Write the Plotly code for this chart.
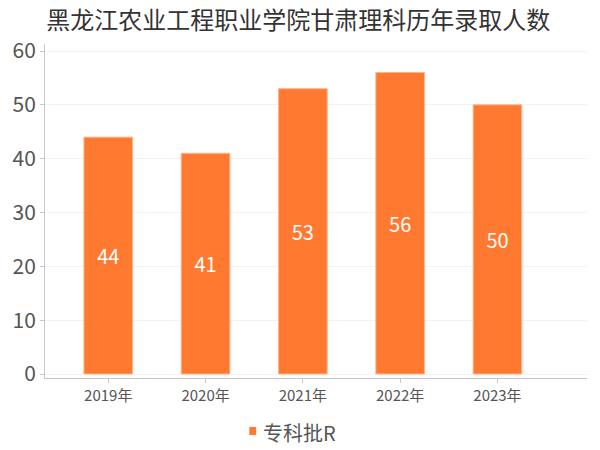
import plotly.graph_objects as go

years = ["2019年", "2020年", "2021年", "2022年", "2023年"]
counts = [44, 41, 53, 56, 50]
series_name = "专科批R"

font = "Noto Sans CJK SC, Microsoft YaHei, sans-serif"
bar_color = "#FF7A30"

fig = go.Figure()
fig.add_trace(go.Bar(
    x=years, y=counts, name=series_name,
    width=0.5,
    marker=dict(color=bar_color, line=dict(color="#FFB58A", width=1)),
    text=[str(v) for v in counts],
    textposition="inside", insidetextanchor="middle",
    textfont=dict(color="white", size=20, family=font),
    showlegend=False,
))

# legend drawn by hand so it does not push the plot margins
fig.add_shape(type="rect", xref="paper", yref="paper",
              x0=0.377, x1=0.3897, y0=-0.1707, y1=-0.1467,
              fillcolor=bar_color, line=dict(width=0))
fig.add_annotation(text=series_name, xref="paper", yref="paper",
                   x=0.399, y=-0.1617, xanchor="left", yanchor="middle",
                   showarrow=False,
                   font=dict(size=20, color="#555555", family=font))

fig.update_layout(
    width=600, height=450,
    paper_bgcolor="white", plot_bgcolor="white",
    margin=dict(l=43, r=13, t=44, b=72),
    font=dict(family=font, color="#555555"),
    title=dict(text="黑龙江农业工程职业学院甘肃理科历年录取人数",
               x=0.497, xanchor="center", y=0.955, yanchor="middle",
               font=dict(size=24, color="#333333", family=font)),
    bargap=0.5,
)
fig.update_xaxes(
    type="category", range=[-0.65, 4.92],
    showline=True, linecolor="#c8c8c8", linewidth=1,
    ticks="outside", ticklen=4, tickcolor="#c8c8c8",
    tickfont=dict(size=15, color="#555555", family=font),
    showgrid=False,
)
fig.update_yaxes(
    range=[-0.74, 61.3], tickvals=[0, 10, 20, 30, 40, 50, 60],
    showline=True, linecolor="#c8c8c8", linewidth=1,
    ticks="outside", ticklen=4, tickcolor="#c8c8c8",
    tickfont=dict(size=21, color="#555555", family=font),
    showgrid=True, gridcolor="#f2f2f2", zeroline=False,
)

fig.write_html("out.html", config={"displayModeBar": False},
               post_script="document.body.style.margin='0';")
